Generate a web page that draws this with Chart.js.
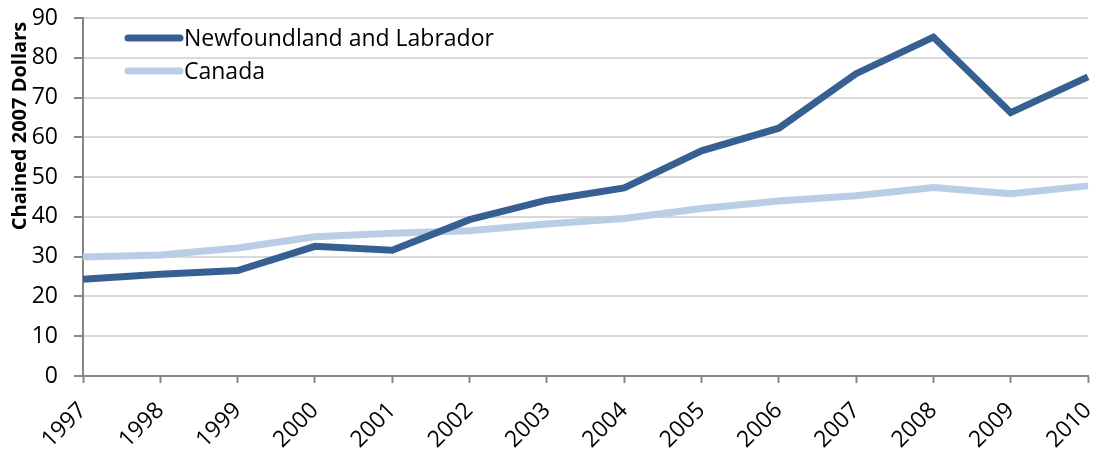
<!DOCTYPE html>
<html>
<head>
<meta charset="utf-8">
<script src="https://cdn.jsdelivr.net/npm/chart.js@4/dist/chart.umd.min.js"></script>
<style>
html,body{margin:0;padding:0;background:#fff;}
#wrap{width:1095px;height:449px;}
</style>
</head>
<body>
<div id="wrap"><canvas id="c" width="1095" height="449"></canvas></div>
<script>
const years = ["1997","1998","1999","2000","2001","2002","2003","2004","2005","2006","2007","2008","2009","2010"];
const newfoundland = [24.3, 25.6, 26.5, 32.6, 31.6, 39.3, 44.2, 47.3, 56.6, 62.3, 76.0, 85.2, 66.2, 75.2];
const canada = [29.9, 30.4, 32.2, 35.0, 35.9, 36.5, 38.2, 39.6, 42.1, 44.0, 45.3, 47.4, 45.8, 47.8];
const seriesNames = ["Newfoundland and Labrador", "Canada"];
const yTicks = [0, 10, 20, 30, 40, 50, 60, 70, 80, 90];
const yTitle = "Chained 2007 Dollars";

const FONT = "'Open Sans', Lato, sans-serif";

const insideLegend = {
  id: 'insideLegend',
  afterDraw(chart) {
    const ctx = chart.ctx;
    ctx.save();
    chart.data.datasets.forEach((ds, i) => {
      const y = 38 + i * 33;
      ctx.strokeStyle = ds.borderColor;
      ctx.lineWidth = 7;
      ctx.lineCap = 'round';
      ctx.beginPath();
      ctx.moveTo(128, y);
      ctx.lineTo(180, y);
      ctx.stroke();
      ctx.fillStyle = '#000';
      ctx.font = '23px ' + FONT;
      ctx.textBaseline = 'middle';
      ctx.textAlign = 'left';
      ctx.fillText(ds.label, 184, y + 1);
    });
    // y-axis title
    ctx.translate(20, 126);
    ctx.rotate(-Math.PI / 2);
    ctx.font = 'bold 20px ' + FONT;
    ctx.textAlign = 'center';
    ctx.textBaseline = 'middle';
    ctx.fillStyle = '#000';
    ctx.fillText(yTitle, 0, 0);
    ctx.restore();
  }
};

new Chart(document.getElementById('c'), {
  type: 'line',
  data: {
    labels: years,
    datasets: [
      { label: seriesNames[0], data: newfoundland, borderColor: '#376092', backgroundColor: '#376092', borderWidth: 7, pointRadius: 0, tension: 0, borderCapStyle: 'butt' },
      { label: seriesNames[1], data: canada, borderColor: '#b9cde5', backgroundColor: '#b9cde5', borderWidth: 7, pointRadius: 0, tension: 0, borderCapStyle: 'butt' }
    ]
  },
  options: {
    responsive: false,
    animation: false,
    devicePixelRatio: 1,
    layout: { padding: { left: 0, right: 7, top: 18, bottom: 0 } },
    plugins: { legend: { display: false }, tooltip: { enabled: false } },
    scales: {
      x: {
        type: 'category',
        offset: false,
        grid: { drawOnChartArea: false, drawTicks: true, tickLength: 7, tickColor: '#868686', tickWidth: 2 },
        border: { color: '#868686', width: 2 },
        ticks: { color: '#000', font: { family: FONT, size: 23 }, maxRotation: 45, minRotation: 45, padding: 14, autoSkip: false },
        afterFit(scale) { scale.height = 73; scale.paddingLeft = 0; scale.paddingRight = 0; }
      },
      y: {
        min: 0, max: 90,
        afterBuildTicks(scale) { scale.ticks = yTicks.map(v => ({ value: v })); },
        grid: { color: '#d9d9d9', lineWidth: 2, drawTicks: true, tickLength: 9, tickColor: '#868686', tickWidth: 2 },
        border: { color: '#868686', width: 2 },
        ticks: { color: '#000', font: { family: FONT, size: 23 }, padding: 16 },
        title: { display: false },
        afterFit(scale) { scale.width = 83; scale.paddingTop = 0; scale.paddingBottom = 0; }
      }
    }
  },
  plugins: [insideLegend]
});
</script>
</body>
</html>
